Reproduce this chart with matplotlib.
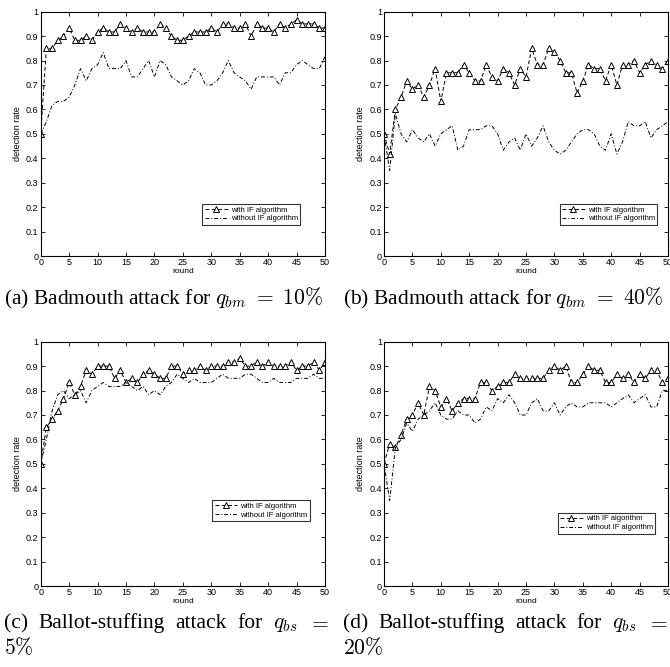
import matplotlib
matplotlib.use("Agg")
import matplotlib.pyplot as plt
import numpy as np

plt.rcParams['font.family'] = ['Liberation Sans', 'DejaVu Sans']
plt.rcParams['mathtext.fontset'] = 'cm'

rounds = list(range(51))

a_with = [0.5, 0.85, 0.85, 0.883, 0.9, 0.933, 0.883, 0.883, 0.9, 0.883,
          0.917, 0.933, 0.917, 0.917, 0.95, 0.933, 0.917, 0.933, 0.917, 0.917,
          0.917, 0.95, 0.933, 0.9, 0.883, 0.883, 0.9, 0.917, 0.917, 0.917,
          0.933, 0.917, 0.95, 0.95, 0.933, 0.933, 0.95, 0.9, 0.95, 0.933,
          0.933, 0.917, 0.95, 0.933, 0.95, 0.967, 0.95, 0.95, 0.95, 0.933, 0.933]
a_without = [0.5, 0.55, 0.617, 0.633, 0.633, 0.65, 0.7, 0.767, 0.717, 0.767,
             0.783, 0.833, 0.767, 0.767, 0.767, 0.8, 0.733, 0.733, 0.767, 0.8,
             0.733, 0.8, 0.783, 0.733, 0.717, 0.7, 0.717, 0.767, 0.75, 0.7,
             0.7, 0.717, 0.75, 0.8, 0.75, 0.733, 0.717, 0.683, 0.733, 0.733,
             0.733, 0.733, 0.7, 0.75, 0.75, 0.783, 0.8, 0.783, 0.767, 0.767, 0.817]

b_with = [0.5, 0.417, 0.6, 0.65, 0.717, 0.683, 0.7, 0.65, 0.7, 0.767,
          0.633, 0.75, 0.75, 0.75, 0.783, 0.75, 0.717, 0.717, 0.783, 0.733,
          0.717, 0.767, 0.75, 0.7, 0.767, 0.733, 0.85, 0.783, 0.783, 0.85,
          0.833, 0.8, 0.75, 0.75, 0.667, 0.717, 0.783, 0.767, 0.767, 0.717,
          0.783, 0.7, 0.783, 0.783, 0.8, 0.75, 0.783, 0.8, 0.783, 0.767, 0.8]
b_without = [0.5, 0.35, 0.583, 0.5, 0.467, 0.517, 0.483, 0.467, 0.5, 0.45,
             0.5, 0.517, 0.533, 0.433, 0.45, 0.517, 0.517, 0.517, 0.533, 0.533,
             0.5, 0.433, 0.467, 0.483, 0.433, 0.5, 0.45, 0.483, 0.533, 0.467,
             0.433, 0.417, 0.433, 0.467, 0.5, 0.517, 0.517, 0.5, 0.45, 0.433,
             0.5, 0.417, 0.467, 0.55, 0.533, 0.533, 0.55, 0.483, 0.517, 0.533, 0.55]

c_with = [0.5, 0.65, 0.683, 0.717, 0.767, 0.833, 0.783, 0.817, 0.883, 0.867,
          0.9, 0.9, 0.9, 0.85, 0.883, 0.833, 0.85, 0.833, 0.867, 0.883,
          0.867, 0.85, 0.85, 0.9, 0.9, 0.867, 0.883, 0.883, 0.9, 0.883,
          0.9, 0.9, 0.9, 0.917, 0.917, 0.933, 0.9, 0.9, 0.917, 0.9,
          0.917, 0.9, 0.9, 0.9, 0.917, 0.883, 0.9, 0.9, 0.917, 0.883, 0.917]
c_without = [0.5, 0.6, 0.717, 0.783, 0.8, 0.767, 0.783, 0.8, 0.75, 0.8,
             0.817, 0.833, 0.817, 0.817, 0.817, 0.833, 0.817, 0.8, 0.817, 0.783,
             0.8, 0.783, 0.817, 0.833, 0.867, 0.85, 0.833, 0.85, 0.833, 0.833,
             0.833, 0.85, 0.867, 0.85, 0.85, 0.85, 0.867, 0.867, 0.85, 0.833,
             0.833, 0.85, 0.833, 0.833, 0.833, 0.85, 0.85, 0.85, 0.867, 0.85, 0.85]

d_with = [0.5, 0.583, 0.567, 0.617, 0.683, 0.7, 0.75, 0.7, 0.817, 0.8,
          0.733, 0.767, 0.717, 0.75, 0.767, 0.767, 0.767, 0.833, 0.833, 0.8,
          0.817, 0.833, 0.833, 0.867, 0.85, 0.85, 0.85, 0.85, 0.85, 0.883,
          0.9, 0.883, 0.9, 0.833, 0.833, 0.867, 0.9, 0.883, 0.883, 0.833,
          0.833, 0.867, 0.85, 0.867, 0.833, 0.867, 0.85, 0.883, 0.883, 0.833, 0.85]
d_without = [0.5, 0.35, 0.567, 0.6, 0.667, 0.633, 0.683, 0.7, 0.717, 0.75,
             0.7, 0.683, 0.683, 0.717, 0.7, 0.7, 0.667, 0.683, 0.733, 0.717,
             0.767, 0.75, 0.783, 0.75, 0.7, 0.7, 0.75, 0.767, 0.717, 0.717,
             0.75, 0.7, 0.733, 0.75, 0.733, 0.733, 0.75, 0.75, 0.75, 0.75,
             0.733, 0.75, 0.767, 0.783, 0.75, 0.767, 0.783, 0.733, 0.733, 0.8, 0.8]

legend_labels = ["with IF algorithm", "without IF algorithm"]
xticks = list(range(0, 51, 5))
yticks = [0, 0.1, 0.2, 0.3, 0.4, 0.5, 0.6, 0.7, 0.8, 0.9, 1]
ytick_labels = ["0", "0.1", "0.2", "0.3", "0.4", "0.5", "0.6", "0.7", "0.8", "0.9", "1"]

W, H = 670, 667
fig = plt.figure(figsize=(W / 100, H / 100), dpi=100)

def rect(l, r, t, b):
    return [l / W, 1 - b / H, (r - l) / W, (b - t) / H]

panels = [
    (rect(40.7, 325, 11.7, 256), a_with, a_without, (0.912, 0.213)),
    (rect(384, 668, 11.7, 256), b_with, b_without, (0.962, 0.213)),
    (rect(40.7, 325, 341.7, 586), c_with, c_without, (0.947, 0.35)),
    (rect(384, 668, 341.7, 586), d_with, d_without, (0.955, 0.30)),
]

for pos, yw, ywo, anchor in panels:
    ax = fig.add_axes(pos)
    ax.plot(rounds, yw, color='black', lw=0.7, dashes=(4, 2.5),
            marker='^', markersize=4.8, markerfacecolor='white',
            markeredgecolor='black', markeredgewidth=0.7, label=legend_labels[0])
    ax.plot(rounds, ywo, color='black', lw=0.7, dashes=(4, 2, 1, 2),
            label=legend_labels[1])
    ax.set_xlim(0, 50)
    ax.set_ylim(0, 1)
    ax.set_xticks(xticks)
    ax.set_yticks(yticks)
    ax.set_yticklabels(ytick_labels)
    ax.tick_params(direction='in', top=True, right=True, length=3, width=0.6,
                   labelsize=6.5, pad=1.5)
    for s in ax.spines.values():
        s.set_linewidth(0.8)
    ax.set_xlabel("round", fontsize=6, labelpad=0.5)
    ax.set_ylabel("detection rate", fontsize=6.5, labelpad=3)
    leg = ax.legend(loc='upper right', bbox_to_anchor=anchor, fontsize=5.5,
                    frameon=True, fancybox=False, handlelength=3,
                    borderpad=0.3, labelspacing=0.2, handletextpad=0.4,
                    borderaxespad=0)
    leg.get_frame().set_edgecolor('black')
    leg.get_frame().set_linewidth(0.8)

cap_kw = dict(fontsize=15.5, family='Liberation Serif', va='baseline', ha='left')

fig.text(4 / W, 1 - 304 / H, r"(a) Badmouth attack for $q_{bm}\ =\ 10\%$", **cap_kw)
fig.text(343 / W, 1 - 304 / H, r"(b) Badmouth attack for $q_{bm}\ =\ 40\%$", **cap_kw)

def justified(words, x0, x1, y):
    texts = [fig.text(x0 / W, 1 - y / H, w, **cap_kw) for w in words]
    fig.canvas.draw()
    r = fig.canvas.get_renderer()
    widths = [t.get_window_extent(r).width for t in texts]
    gap = (x1 - x0 - sum(widths)) / (len(words) - 1)
    x = x0
    for t, w in zip(texts, widths):
        t.set_x(x / W)
        x += w + gap

justified(["(c)", "Ballot-stuffing", "attack", "for", r"$q_{bs}$", r"$=$"], 4, 329, 628)
justified(["(d)", "Ballot-stuffing", "attack", "for", r"$q_{bs}$", r"$=$"], 343, 668, 628)
fig.text(4 / W, 1 - 654 / H, r"$5\%$", **cap_kw)
fig.text(343 / W, 1 - 654 / H, r"$20\%$", **cap_kw)

fig.savefig("out.png", dpi=100)
